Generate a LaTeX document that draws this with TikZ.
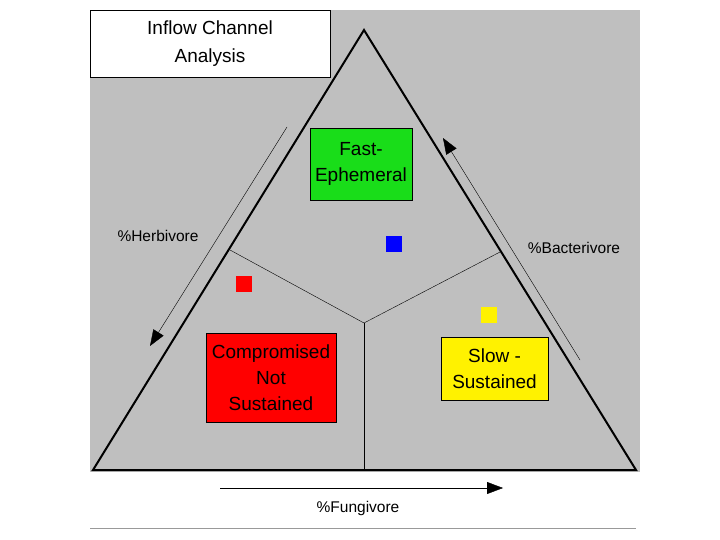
\documentclass[tikz,border=0pt]{standalone}
\usepackage{fontspec}
\setmainfont{Liberation Sans}
\usetikzlibrary{arrows.meta}
\tikzset{
  box/.style={draw, thick, align=center, inner sep=0pt, font=\fontsize{19}{26}\selectfont},
  lbl/.style={font=\fontsize{15.5}{18}\selectfont},
  square/.style={minimum size=16pt, inner sep=0pt},
  flow/.style={-{Triangle[length=16pt,width=12pt]}, thin}
}
\begin{document}
\begin{tikzpicture}[x=1pt,y=-1pt]
  \useasboundingbox (0,0) rectangle (720,540);
  \fill[black!25] (90,10) rectangle (640,472);
  \draw[black!40] (90,528) -- (636,528);

  % triangle and borders
  \coordinate (top) at (364,30);
  \coordinate (bl) at (93,470);
  \coordinate (br) at (636,470);
  \coordinate (mid) at (364,323);
  \draw[line width=2pt] (top) -- (bl) -- (br) -- cycle;
  \draw (230,250) -- (mid) -- (500,252);
  \draw (mid) -- (364,470);

  \node[draw, fill=white, align=center, minimum width=240pt, minimum height=67pt,
        font=\fontsize{19}{28}\selectfont] (title) at (210,43.5) {Inflow Channel\\Analysis};

  \node[box, fill=green!85!black!90, minimum width=102pt, minimum height=72pt] (fast) at (361,164) {Fast-\\Ephemeral};
  \node[box, fill=red, minimum width=130pt, minimum height=89pt] (comp) at (271,377.5) {Compromised\\Not\\Sustained};
  \node[box, fill=yellow, minimum width=107pt, minimum height=63pt] (slow) at (494.5,368.5) {Slow -\\Sustained};

  \node[square, fill=blue] (bsq) at (394,244) {};
  \node[square, fill=red] (rsq) at (243.5,283.5) {};
  \node[square, fill=yellow] (ysq) at (489,314.5) {};

  \node[lbl] (herb) at (158,236) {\%Herbivore};
  \node[lbl] (bact) at (574,248) {\%Bacterivore};
  \node[lbl] (fung) at (358,508) {\%Fungivore};

  \coordinate (h1) at (287,127); \coordinate (h2) at (150,346);
  \coordinate (b1) at (580,360); \coordinate (b2) at (443,138);
  \coordinate (f1) at (220,488); \coordinate (f2) at (503,488);
  \draw[flow] (h1) -- (h2);
  \draw[flow] (b1) -- (b2);
  \draw[flow] (f1) -- (f2);
\end{tikzpicture}
\end{document}
